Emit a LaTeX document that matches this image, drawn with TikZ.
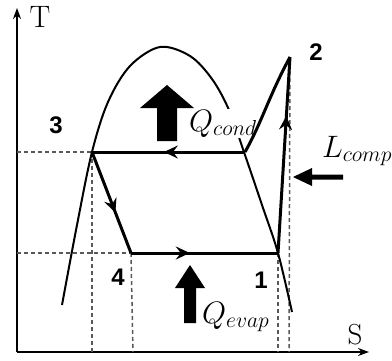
\RequirePackage{fix-cm}
\documentclass[tikz,border=0pt]{standalone}
\usepackage{fontspec}
\newfontfamily\numfont{Liberation Sans}
\usepackage{tikz}
\usetikzlibrary{arrows.meta,decorations.markings}

\begin{document}
\begin{tikzpicture}[x=1pt,y=-1pt,
  axis/.style={line width=1.8pt,-{Stealth[length=11pt,width=8pt]}},
  cycle/.style={line width=3pt},
  guide/.style={line width=1.5pt,dash pattern=on 4pt off 3pt,gray!70!black},
  midarrow/.style={postaction={decorate},decoration={markings,
    mark=at position #1 with {\arrow{Stealth[length=14pt,width=13pt,inset=5pt]}}}},
  pointlabel/.style={font=\numfont\bfseries\fontsize{24}{26}\selectfont},
  heatlabel/.style={font=\fontsize{31}{33}\selectfont,inner sep=1pt}]
\useasboundingbox (0,0) rectangle (392,360);

% axes
\coordinate (origin) at (17,352);
\coordinate (tend) at (17,8);
\coordinate (send) at (369,352);
\draw[axis] (origin) -- (tend);
\draw[axis] (origin) -- (send);
\node[font=\fontsize{31}{33}\selectfont] (tlabel) at (40,17) {T};
\node[font=\fontsize{29}{31}\selectfont] (slabel) at (355,335) {S};

% cycle points
\coordinate (p1) at (278,253);
\coordinate (p2) at (290,57);
\coordinate (p3) at (92,152);
\coordinate (p4) at (131,253);
\coordinate (pv) at (245,152);

% guides
\draw[guide] (17,152) -- (p3);
\draw[guide] (17,253) -- (p4);
\draw[guide] (p3) -- (92,352);
\draw[guide] (p4) -- (133,352);
\draw[guide] (p1) -- (278,352);
\draw[guide] (p2) -- (289,352);

% saturation dome
\draw[line width=2pt] plot[smooth,tension=0.55] coordinates {(62,305) (77,225) (92,152) (108,102) (130,66) (160,47) (190,56) (212,79) (229,110) (245,155) (262,205) (278,253) (292,312)};

% Q_cond label over dome
\node[heatlabel,fill=white,anchor=base west] (qcond) at (188,131) {$Q_{cond}$};

% cycle
\draw[cycle,midarrow=0.7] (p1) -- (p2);
\draw[cycle] (p2) .. controls (268,98) and (262,122) .. (pv);
\draw[cycle,midarrow=0.53] (pv) -- (p3);
\draw[cycle,midarrow=0.6] (p3) -- (p4);
\draw[cycle,midarrow=0.4] (p4) -- (p1);

% point labels
\node[pointlabel] (n1) at (261,280) {1};
\node[pointlabel] (n2) at (316,52) {2};
\node[pointlabel] (n3) at (56,125) {3};
\node[pointlabel] (n4) at (118,277) {4};

% heat and work arrows
\fill (167,85) -- (194,108) -- (177,108) -- (177,141) -- (157,141) -- (157,108) -- (140,108) -- cycle;
\fill (190,265) -- (205,288) -- (196,288) -- (196,323) -- (184,323) -- (184,288) -- (175,288) -- cycle;
\fill (293,177) -- (312,168) -- (312,174.5) -- (343,174.5) -- (343,179.5) -- (312,179.5) -- (312,186) -- cycle;
\node[heatlabel,anchor=base west] (lcomp) at (321,157) {$L_{comp}$};
\node[heatlabel,anchor=base west] (qevap) at (201,323) {$Q_{evap}$};
\end{tikzpicture}
\end{document}
